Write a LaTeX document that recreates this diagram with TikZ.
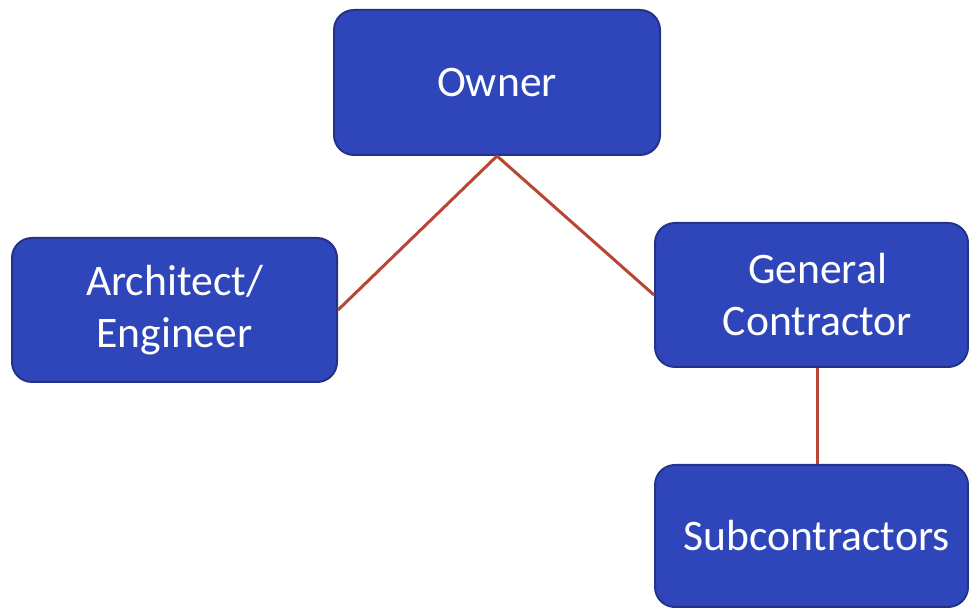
\documentclass[tikz,border=0pt]{standalone}
\usepackage{fontspec}
\setmainfont{Carlito}
\definecolor{boxfill}{RGB}{46,70,186}
\definecolor{boxline}{RGB}{36,50,135}
\definecolor{linkred}{RGB}{185,70,52}
\begin{document}
\begin{tikzpicture}[x=0.5pt,y=-0.5pt,
  box/.style={draw=boxline, line width=1pt, fill=boxfill, rounded corners=10pt,
    text=white, align=center, inner sep=0pt,
    font=\fontsize{21.8}{26}\selectfont},
  boxtext/.style={text=white, align=center, inner sep=0pt,
    font=\fontsize{21.8}{26}\selectfont},
  link/.style={draw=linkred, line width=1.5pt}]
\useasboundingbox (0,0) rectangle (969,608);
\node[box, minimum width=163pt, minimum height=72.5pt] (owner) at (497,82.5) {Owner};
\node[box, minimum width=162.5pt, minimum height=72pt] (arch) at (174.5,310) {Architect/\\Engineer};
\node[box, minimum width=156.5pt, minimum height=72pt,
  label={[boxtext, xshift=3pt]center:{General\\Contractor}}] (gc) at (811.5,295) {};
\node[box, minimum width=156.5pt, minimum height=71pt,
  label={[boxtext, xshift=2.5pt]center:Subcontractors}] (sub) at (811.5,536) {};
\draw[link] (owner.south) -- (arch.east);
\draw[link] (owner.south) -- (gc.west);
\draw[link] ([xshift=3pt]gc.south) -- ([xshift=3pt]sub.north);
\end{tikzpicture}
\end{document}
